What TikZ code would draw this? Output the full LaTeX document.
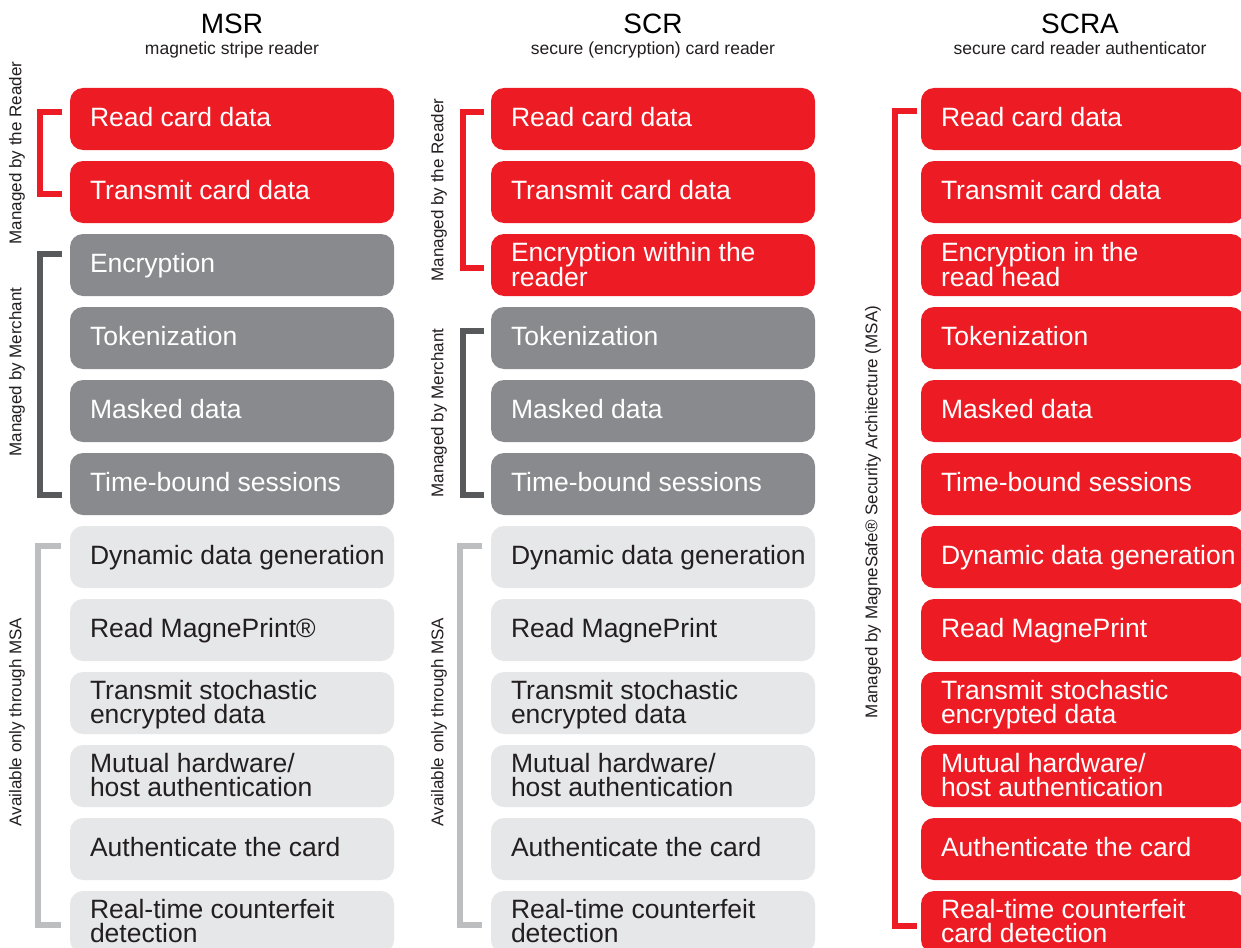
\documentclass[tikz,border=0pt]{standalone}
\usepackage{fontspec}
\setmainfont{Liberation Sans}
\definecolor{mred}{HTML}{ED1C24}
\definecolor{mdgray}{HTML}{898A8D}
\definecolor{mlgray}{HTML}{E6E7E8}
\definecolor{mbrdark}{HTML}{58595B}
\definecolor{mbrlight}{HTML}{BCBEC0}
\definecolor{mtext}{HTML}{231F20}
\tikzset{
 cell/.style={rectangle, rounded corners=13pt, inner sep=0pt, outer sep=0pt, minimum height=62pt, anchor=north west},
 redcell/.style={cell, fill=mred},
 darkcell/.style={cell, fill=mdgray},
 lightcell/.style={cell, fill=mlgray},
 celltext/.style={anchor=base west, inner sep=0pt, outer sep=0pt, font=\fontsize{26.5}{25}\selectfont},
 wtext/.style={celltext, text=white},
 btext/.style={celltext, text=mtext},
 bracketline/.style={line width=6.5pt, line join=miter},
 sidelabel/.style={rotate=90, font=\fontsize{17}{18}\selectfont, text=mtext, inner sep=0pt},
 headtext/.style={font=\fontsize{28}{30}\selectfont, anchor=base, inner sep=0pt, text=black},
 subtext/.style={font=\fontsize{17.5}{19}\selectfont, anchor=base, inner sep=0pt, text=mtext},
}
\newcommand\onecell[7]{%
 \pgfmathsetmacro\celltop{88+73*(#5-1)}%
 \node[#2, minimum width=#6pt] (#1) at (#4,\celltop) {};%
 \node[#3] (#1t) at (#4+20,\celltop+38) {#7};%
}
\newcommand\twocell[8]{%
 \pgfmathsetmacro\celltop{88+73*(#5-1)}%
 \node[#2, minimum width=#6pt] (#1) at (#4,\celltop) {};%
 \node[#3] (#1t) at (#4+20,\celltop+27) {\vtop{\baselineskip=24.5pt\hbox{#7}\hbox{#8}}};%
}
\begin{document}
\begin{tikzpicture}[x=1pt,y=-1pt]
\useasboundingbox (0,0) rectangle (1241,947);
\fill[white] (0,0) rectangle (1241,947);
% headers
\node[headtext] (h1) at (232,34) {MSR};
\node[subtext] (s1) at (232,55) {magnetic stripe reader};
\node[headtext] (h2) at (653,34) {SCR};
\node[subtext] (s2) at (653,55) {secure (encryption) card reader};
\node[headtext] (h3) at (1080,34) {SCRA};
\node[subtext] (s3) at (1080,55) {secure card reader authenticator};
% column 1 (MSR)
\onecell{a1}{redcell}{wtext}{70}{1}{324}{Read card data}
\onecell{a2}{redcell}{wtext}{70}{2}{324}{Transmit card data}
\onecell{a3}{darkcell}{wtext}{70}{3}{324}{Encryption}
\onecell{a4}{darkcell}{wtext}{70}{4}{324}{Tokenization}
\onecell{a5}{darkcell}{wtext}{70}{5}{324}{Masked data}
\onecell{a6}{darkcell}{wtext}{70}{6}{324}{Time-bound sessions}
\onecell{a7}{lightcell}{btext}{70}{7}{324}{Dynamic data generation}
\onecell{a8}{lightcell}{btext}{70}{8}{324}{Read MagnePrint®}
\twocell{a9}{lightcell}{btext}{70}{9}{324}{Transmit stochastic}{encrypted data}
\twocell{a10}{lightcell}{btext}{70}{10}{324}{Mutual hardware/}{host authentication}
\onecell{a11}{lightcell}{btext}{70}{11}{324}{Authenticate the card}
\twocell{a12}{lightcell}{btext}{70}{12}{324}{Real-time counterfeit}{detection}
% column 2 (SCR)
\onecell{b1}{redcell}{wtext}{491}{1}{324}{Read card data}
\onecell{b2}{redcell}{wtext}{491}{2}{324}{Transmit card data}
\twocell{b3}{redcell}{wtext}{491}{3}{324}{Encryption within the}{reader}
\onecell{b4}{darkcell}{wtext}{491}{4}{324}{Tokenization}
\onecell{b5}{darkcell}{wtext}{491}{5}{324}{Masked data}
\onecell{b6}{darkcell}{wtext}{491}{6}{324}{Time-bound sessions}
\onecell{b7}{lightcell}{btext}{491}{7}{324}{Dynamic data generation}
\onecell{b8}{lightcell}{btext}{491}{8}{324}{Read MagnePrint}
\twocell{b9}{lightcell}{btext}{491}{9}{324}{Transmit stochastic}{encrypted data}
\twocell{b10}{lightcell}{btext}{491}{10}{324}{Mutual hardware/}{host authentication}
\onecell{b11}{lightcell}{btext}{491}{11}{324}{Authenticate the card}
\twocell{b12}{lightcell}{btext}{491}{12}{324}{Real-time counterfeit}{detection}
% column 3 (SCRA)
\onecell{c1}{redcell}{wtext}{921}{1}{323}{Read card data}
\onecell{c2}{redcell}{wtext}{921}{2}{323}{Transmit card data}
\twocell{c3}{redcell}{wtext}{921}{3}{323}{Encryption in the}{read head}
\onecell{c4}{redcell}{wtext}{921}{4}{323}{Tokenization}
\onecell{c5}{redcell}{wtext}{921}{5}{323}{Masked data}
\onecell{c6}{redcell}{wtext}{921}{6}{323}{Time-bound sessions}
\onecell{c7}{redcell}{wtext}{921}{7}{323}{Dynamic data generation}
\onecell{c8}{redcell}{wtext}{921}{8}{323}{Read MagnePrint}
\twocell{c9}{redcell}{wtext}{921}{9}{323}{Transmit stochastic}{encrypted data}
\twocell{c10}{redcell}{wtext}{921}{10}{323}{Mutual hardware/}{host authentication}
\onecell{c11}{redcell}{wtext}{921}{11}{323}{Authenticate the card}
\twocell{c12}{redcell}{wtext}{921}{12}{323}{Real-time counterfeit}{card detection}
% brackets column 1
\draw[bracketline, mred] (62,112) -- (40,112) -- (40,194) -- (62,194);
\draw[bracketline, mbrdark] (62,254) -- (40,254) -- (40,495) -- (62,495);
\draw[bracketline, mbrlight] (61,546) -- (38,546) -- (38,925) -- (61,925);
% brackets column 2
\draw[bracketline, mred] (484,112) -- (463,112) -- (463,268) -- (484,268);
\draw[bracketline, mbrdark] (484,331) -- (463,331) -- (463,495) -- (484,495);
\draw[bracketline, mbrlight] (482,546) -- (460,546) -- (460,925) -- (482,925);
% bracket column 3
\draw[bracketline, mred] (917,111) -- (895,111) -- (895,926) -- (917,926);
% side labels
\node[sidelabel] (l1) at (17,153) {Managed by the Reader};
\node[sidelabel] (l2) at (17,372) {Managed by Merchant};
\node[sidelabel] (l3) at (17,722) {Available only through MSA};
\node[sidelabel] (l4) at (439,190) {Managed by the Reader};
\node[sidelabel] (l5) at (439,413) {Managed by Merchant};
\node[sidelabel] (l6) at (439,722) {Available only through MSA};
\node[sidelabel] (l7) at (873,512) {Managed by MagneSafe® Security Architecture (MSA)};
\end{tikzpicture}
\end{document}
